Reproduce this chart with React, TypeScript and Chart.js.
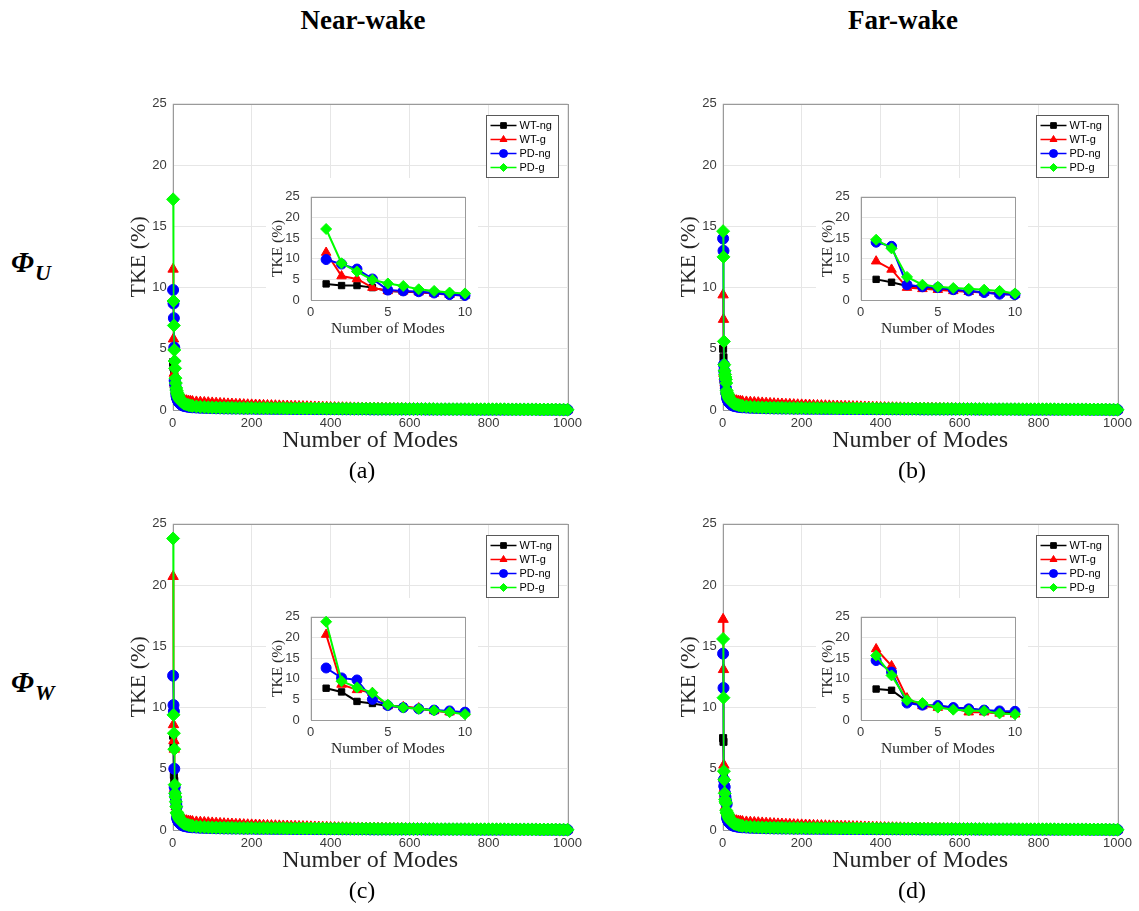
import React, { useEffect, useRef } from "react";
import { Chart, registerables } from "chart.js";
import { drawPoint } from "chart.js/helpers";

Chart.register(...registerables);

// ---- series appearance ----
const SERIES_NAMES = ["WT-ng", "WT-g", "PD-ng", "PD-g"];
const SERIES_COLORS = ["#000000", "#ff0000", "#0000ff", "#00ff00"];
const SERIES_MARKERS = ["rect", "triangle", "circle", "rectRot"];
const MAIN_MARKER_RADII = [5, 6, 5.5, 6.5];
const INSET_MARKER_RADII = [4.5, 5.5, 5, 5.5];
const DRAW_ORDER = [4, 3, 2, 1]; // PD-g ends up on top

// ---- axes ----
const MAIN_X_TICKS = [0, 200, 400, 600, 800, 1000];
const INSET_X_TICKS = [0, 5, 10];
const Y_TICKS = [0, 5, 10, 15, 20, 25];

// ---- leading modes (shown in the insets) ----
const HEAD_MODES = [1, 2, 3, 4, 5, 6, 7, 8, 9, 10];

// Φ_U, near-wake
const NEAR_U_WT_NG = [3.9, 3.5, 3.5, 3.0, 2.2, 2.0, 1.9, 1.7, 1.5, 1.3];
const NEAR_U_WT_G = [11.5, 5.8, 5.1, 3.0, 2.2, 2.1, 1.9, 1.6, 1.3, 1.1];
const NEAR_U_PD_NG = [9.8, 8.7, 7.5, 5.1, 2.4, 2.2, 2.0, 1.7, 1.3, 1.1];
const NEAR_U_PD_G = [17.2, 8.9, 6.9, 4.9, 4.0, 3.4, 2.6, 2.2, 1.8, 1.6];

// Φ_U, far-wake
const FAR_U_WT_NG = [5.0, 4.3, 3.4, 3.0, 2.7, 2.3, 2.1, 1.9, 1.6, 1.4];
const FAR_U_WT_G = [9.4, 7.4, 3.0, 2.7, 2.5, 2.2, 2.0, 1.8, 1.5, 1.3];
const FAR_U_PD_NG = [14.0, 13.0, 3.7, 3.2, 3.0, 2.5, 2.2, 1.8, 1.4, 1.3];
const FAR_U_PD_G = [14.6, 12.5, 5.6, 3.7, 3.2, 2.9, 2.7, 2.5, 2.2, 1.6];

// Φ_W, near-wake
const NEAR_W_WT_NG = [7.7, 6.8, 4.5, 4.0, 3.4, 3.2, 2.7, 2.3, 2.0, 1.8];
const NEAR_W_WT_G = [20.7, 8.6, 7.3, 6.6, 3.4, 3.2, 2.9, 2.2, 1.9, 1.7];
const NEAR_W_PD_NG = [12.6, 10.2, 9.7, 5.0, 3.5, 3.0, 2.7, 2.4, 2.2, 1.9];
const NEAR_W_PD_G = [23.8, 9.4, 7.9, 6.6, 3.7, 3.0, 2.7, 2.3, 1.9, 1.4];

// Φ_W, far-wake
const FAR_W_WT_NG = [7.5, 7.2, 4.5, 3.7, 3.4, 3.0, 2.7, 2.3, 1.9, 1.8];
const FAR_W_WT_G = [17.2, 13.1, 5.3, 3.4, 3.0, 2.9, 1.9, 1.9, 1.6, 1.4];
const FAR_W_PD_NG = [14.4, 11.6, 4.1, 3.6, 3.5, 3.0, 2.7, 2.4, 2.2, 2.1];
const FAR_W_PD_G = [15.6, 10.8, 4.8, 4.1, 3.0, 2.5, 2.3, 2.2, 1.6, 1.4];

// ---- higher modes (the long flat tail of the spectrum) ----
const TAIL_MODES = [
  11, 12, 13, 14, 15, 16, 17, 18, 19, 20,
  22, 24, 26, 28, 30, 35, 40, 45, 50,
  60, 70, 80, 90, 100,
  110, 120, 130, 140, 150, 160, 170, 180, 190, 200,
  210, 220, 230, 240, 250, 260, 270, 280, 290, 300,
  310, 320, 330, 340, 350, 360, 370, 380, 390, 400,
  410, 420, 430, 440, 450, 460, 470, 480, 490, 500,
  510, 520, 530, 540, 550, 560, 570, 580, 590, 600,
  610, 620, 630, 640, 650, 660, 670, 680, 690, 700,
  710, 720, 730, 740, 750, 760, 770, 780, 790, 800,
  810, 820, 830, 840, 850, 860, 870, 880, 890, 900,
  910, 920, 930, 940, 950, 960, 970, 980, 990, 1000,
];

const TAIL_WT_NG = [
  1.2, 1.1, 1.0, 0.93, 0.86, 0.8, 0.75, 0.7, 0.66, 0.62,
  0.56, 0.51, 0.47, 0.44, 0.41, 0.36, 0.32, 0.29, 0.27,
  0.24, 0.22, 0.2, 0.19, 0.18,
  0.17, 0.16, 0.16, 0.15, 0.15, 0.14, 0.14, 0.13, 0.13, 0.13,
  0.12, 0.12, 0.12, 0.11, 0.11, 0.11, 0.11, 0.1, 0.1, 0.1,
  0.1, 0.1, 0.09, 0.09, 0.09, 0.09, 0.09, 0.08, 0.08, 0.08,
  0.08, 0.08, 0.08, 0.07, 0.07, 0.07, 0.07, 0.07, 0.07, 0.07,
  0.06, 0.06, 0.06, 0.06, 0.06, 0.06, 0.06, 0.06, 0.06, 0.06,
  0.06, 0.06, 0.06, 0.05, 0.05, 0.05, 0.05, 0.05, 0.05, 0.05,
  0.05, 0.05, 0.04, 0.04, 0.04, 0.04, 0.04, 0.04, 0.04, 0.04,
  0.04, 0.04, 0.04, 0.03, 0.03, 0.03, 0.03, 0.03, 0.03, 0.03,
  0.03, 0.03, 0.03, 0.02, 0.02, 0.02, 0.02, 0.02, 0.01, 0.01,
];

const TAIL_WT_G = [
  1.3, 1.25, 1.2, 1.15, 1.1, 1.06, 1.02, 0.99, 0.96, 0.93,
  0.9, 0.87, 0.84, 0.82, 0.8, 0.76, 0.73, 0.71, 0.69,
  0.66, 0.64, 0.62, 0.6, 0.58,
  0.56, 0.54, 0.52, 0.5, 0.49, 0.47, 0.46, 0.44, 0.43, 0.42,
  0.41, 0.4, 0.38, 0.37, 0.36, 0.35, 0.34, 0.33, 0.32, 0.31,
  0.3, 0.29, 0.28, 0.27, 0.26, 0.25, 0.24, 0.23, 0.22, 0.21,
  0.2, 0.19, 0.19, 0.18, 0.18, 0.17, 0.17, 0.16, 0.16, 0.15,
  0.15, 0.14, 0.14, 0.13, 0.13, 0.12, 0.12, 0.12, 0.11, 0.11,
  0.1, 0.1, 0.1, 0.09, 0.09, 0.09, 0.08, 0.08, 0.08, 0.07,
  0.07, 0.07, 0.07, 0.06, 0.06, 0.06, 0.06, 0.05, 0.05, 0.05,
  0.05, 0.05, 0.04, 0.04, 0.04, 0.04, 0.04, 0.03, 0.03, 0.03,
  0.03, 0.03, 0.03, 0.02, 0.02, 0.02, 0.02, 0.02, 0.01, 0.01,
];

const TAIL_PD_NG = [
  1.0, 0.9, 0.82, 0.75, 0.69, 0.64, 0.6, 0.56, 0.53, 0.5,
  0.45, 0.41, 0.38, 0.35, 0.33, 0.29, 0.26, 0.24, 0.22,
  0.2, 0.18, 0.17, 0.16, 0.15,
  0.14, 0.14, 0.13, 0.13, 0.12, 0.12, 0.12, 0.11, 0.11, 0.11,
  0.1, 0.1, 0.1, 0.1, 0.09, 0.09, 0.09, 0.09, 0.09, 0.08,
  0.08, 0.08, 0.08, 0.08, 0.08, 0.07, 0.07, 0.07, 0.07, 0.07,
  0.07, 0.07, 0.06, 0.06, 0.06, 0.06, 0.06, 0.06, 0.06, 0.05,
  0.05, 0.05, 0.05, 0.05, 0.05, 0.05, 0.05, 0.05, 0.05, 0.05,
  0.05, 0.05, 0.05, 0.04, 0.04, 0.04, 0.04, 0.04, 0.04, 0.04,
  0.04, 0.04, 0.04, 0.04, 0.03, 0.03, 0.03, 0.03, 0.03, 0.03,
  0.03, 0.03, 0.03, 0.03, 0.03, 0.03, 0.03, 0.03, 0.03, 0.03,
  0.03, 0.03, 0.02, 0.02, 0.02, 0.02, 0.02, 0.02, 0.01, 0.01,
];

const TAIL_PD_G = [
  1.45, 1.35, 1.25, 1.15, 1.07, 1.0, 0.94, 0.88, 0.83, 0.78,
  0.71, 0.65, 0.6, 0.56, 0.52, 0.45, 0.4, 0.36, 0.33,
  0.29, 0.26, 0.24, 0.22, 0.21,
  0.2, 0.19, 0.19, 0.18, 0.18, 0.17, 0.17, 0.16, 0.16, 0.16,
  0.15, 0.15, 0.15, 0.15, 0.14, 0.14, 0.14, 0.14, 0.13, 0.13,
  0.13, 0.13, 0.13, 0.12, 0.12, 0.12, 0.12, 0.12, 0.11, 0.11,
  0.11, 0.11, 0.11, 0.11, 0.1, 0.1, 0.1, 0.1, 0.1, 0.1,
  0.1, 0.09, 0.09, 0.09, 0.09, 0.09, 0.09, 0.09, 0.08, 0.08,
  0.08, 0.08, 0.08, 0.08, 0.08, 0.08, 0.07, 0.07, 0.07, 0.07,
  0.07, 0.07, 0.07, 0.07, 0.07, 0.06, 0.06, 0.06, 0.06, 0.06,
  0.06, 0.06, 0.06, 0.06, 0.05, 0.05, 0.05, 0.05, 0.05, 0.05,
  0.05, 0.05, 0.04, 0.04, 0.04, 0.04, 0.04, 0.03, 0.03, 0.02,
];

const TAILS = [TAIL_WT_NG, TAIL_WT_G, TAIL_PD_NG, TAIL_PD_G];

const PANELS = [
  { id: "a", ox: 0, oy: 0, heads: [NEAR_U_WT_NG, NEAR_U_WT_G, NEAR_U_PD_NG, NEAR_U_PD_G] },
  { id: "b", ox: 550, oy: 0, heads: [FAR_U_WT_NG, FAR_U_WT_G, FAR_U_PD_NG, FAR_U_PD_G] },
  { id: "c", ox: 0, oy: 420, heads: [NEAR_W_WT_NG, NEAR_W_WT_G, NEAR_W_PD_NG, NEAR_W_PD_G] },
  { id: "d", ox: 550, oy: 420, heads: [FAR_W_WT_NG, FAR_W_WT_G, FAR_W_PD_NG, FAR_W_PD_G] },
];

// ---- styling ----
const SANS = '"Liberation Sans", Arial, sans-serif';
const SERIF = '"Liberation Serif", "Times New Roman", serif';
const GRID = "#e6e6e6";
const FRAME = "#9a9a9a";
const TICK_TEXT = "#3a3a3a";
const TITLE_TEXT = "#262626";

// Full axes box, drawn under the data like MATLAB's default layer.
const frameBox = {
  id: "frameBox",
  beforeDatasetsDraw(chart: any) {
    const { ctx, chartArea } = chart;
    const l = Math.round(chartArea.left) + 0.5;
    const t = Math.round(chartArea.top) + 0.5;
    const r = Math.round(chartArea.right) + 0.5;
    const b = Math.round(chartArea.bottom) + 0.5;
    ctx.save();
    ctx.strokeStyle = FRAME;
    ctx.lineWidth = 1;
    ctx.strokeRect(l, t, r - l, b - t);
    ctx.restore();
  },
};

// Boxed legend with a line-and-marker sample per series.
const boxLegend = {
  id: "boxLegend",
  afterDraw(chart: any, _args: any, opts: any) {
    if (!opts || !opts.show) return;
    const { ctx, chartArea } = chart;
    const x0 = Math.round(chartArea.right - opts.right - opts.width) + 0.5;
    const y0 = Math.round(chartArea.top + opts.top) + 0.5;
    ctx.save();
    ctx.fillStyle = "#ffffff";
    ctx.fillRect(x0, y0, opts.width, opts.height);
    ctx.strokeStyle = "#5a5a5a";
    ctx.lineWidth = 1;
    ctx.strokeRect(x0, y0, opts.width, opts.height);
    ctx.font = `11px ${SANS}`;
    ctx.textBaseline = "middle";
    ctx.textAlign = "left";
    chart.data.datasets.forEach((ds: any, i: number) => {
      const y = y0 + opts.firstRow + i * opts.rowGap;
      ctx.strokeStyle = ds.borderColor;
      ctx.fillStyle = ds.backgroundColor;
      ctx.lineWidth = 1.5;
      ctx.beginPath();
      ctx.moveTo(x0 + 4, y);
      ctx.lineTo(x0 + 30, y);
      ctx.stroke();
      ctx.lineWidth = 1;
      drawPoint(ctx, { pointStyle: ds.pointStyle, radius: 4, rotation: 0, borderWidth: 1 }, x0 + 17, y);
      ctx.fillStyle = "#000000";
      ctx.fillText(ds.label, x0 + 33, y + 0.5);
    });
    ctx.restore();
  },
};

function buildDatasets(heads: number[][], withTail: boolean, lineWidth: number, radii: number[]) {
  return SERIES_NAMES.map((name, k) => {
    const pts = HEAD_MODES.map((m, i) => ({ x: m, y: heads[k][i] }));
    const tail = withTail ? TAIL_MODES.map((m, i) => ({ x: m, y: TAILS[k][i] })) : [];
    return {
      label: name,
      data: [...pts, ...tail],
      borderColor: SERIES_COLORS[k],
      backgroundColor: SERIES_COLORS[k],
      pointStyle: SERIES_MARKERS[k],
      pointRadius: radii[k],
      pointBorderWidth: 1,
      borderWidth: lineWidth,
      tension: 0,
      clip: false,
      order: DRAW_ORDER[k],
    };
  });
}

function axisCommon(ticks: number[], tickFont: number, tickPad: number) {
  return {
    type: "linear",
    min: ticks[0],
    max: ticks[ticks.length - 1],
    afterBuildTicks: (s: any) => {
      s.ticks = ticks.map((v) => ({ value: v }));
    },
    ticks: {
      autoSkip: false,
      maxRotation: 0,
      padding: tickPad,
      color: TICK_TEXT,
      font: { family: SANS, size: tickFont },
      callback: (v: any) => String(v),
    },
    grid: { color: GRID, lineWidth: 1, drawTicks: false },
    border: { display: false },
  };
}

function mainConfig(heads: number[][]): any {
  return {
    type: "line",
    data: { datasets: buildDatasets(heads, true, 1.5, MAIN_MARKER_RADII) },
    plugins: [frameBox, boxLegend],
    options: {
      responsive: false,
      animation: false,
      events: [],
      layout: { padding: { top: 9, right: 18, left: 0, bottom: 0 } },
      scales: {
        x: {
          ...axisCommon(MAIN_X_TICKS, 13, 6),
          title: {
            display: true,
            text: "Number of Modes",
            color: TITLE_TEXT,
            font: { family: SERIF, size: 24 },
            padding: { top: 0, bottom: 5 },
          },
          afterFit: (s: any) => {
            s.height = 50;
          },
        },
        y: {
          ...axisCommon(Y_TICKS, 13, 6),
          title: {
            display: true,
            text: "TKE (%)",
            color: TITLE_TEXT,
            font: { family: SERIF, size: 22 },
            padding: { top: 7.8, bottom: 0 },
          },
          afterFit: (s: any) => {
            s.width = 54.7;
          },
        },
      },
      plugins: {
        legend: { display: false },
        tooltip: { enabled: false },
        boxLegend: { show: true, right: 10, top: 11, width: 72, height: 62, firstRow: 10, rowGap: 14 },
      },
    },
  };
}

function insetConfig(heads: number[][]): any {
  return {
    type: "line",
    data: { datasets: buildDatasets(heads, false, 2, INSET_MARKER_RADII) },
    plugins: [frameBox],
    options: {
      responsive: false,
      animation: false,
      events: [],
      layout: { padding: { top: 7.2, right: 13, left: 0, bottom: 0 } },
      scales: {
        x: {
          ...axisCommon(INSET_X_TICKS, 13, 5),
          title: {
            display: true,
            text: "Number of Modes",
            color: TITLE_TEXT,
            font: { family: SERIF, size: 15.5 },
            padding: { top: 0, bottom: 1.4 },
          },
          afterFit: (s: any) => {
            s.height = 40;
          },
        },
        y: {
          ...axisCommon(Y_TICKS, 13, 11),
          title: {
            display: true,
            text: "TKE (%)",
            color: TITLE_TEXT,
            font: { family: SERIF, size: 15.5 },
            padding: { top: 2.5, bottom: 0 },
          },
          afterFit: (s: any) => {
            s.width = 44.7;
          },
        },
      },
      plugins: {
        legend: { display: false },
        tooltip: { enabled: false },
      },
    },
  };
}

function Panel({ ox, oy, id, heads }: { ox: number; oy: number; id: string; heads: number[][] }) {
  const mainRef = useRef<HTMLCanvasElement | null>(null);
  const insetRef = useRef<HTMLCanvasElement | null>(null);

  useEffect(() => {
    const main = new Chart(mainRef.current as HTMLCanvasElement, mainConfig(heads));
    const inset = new Chart(insetRef.current as HTMLCanvasElement, insetConfig(heads));
    return () => {
      main.destroy();
      inset.destroy();
    };
  }, [heads]);

  return (
    <>
      <canvas
        ref={mainRef}
        width={470}
        height={370}
        style={{ position: "absolute", left: 118 + ox, top: 90 + oy, width: 470, height: 370 }}
      />
      <canvas
        ref={insetRef}
        width={212}
        height={162}
        style={{ position: "absolute", left: 266 + ox, top: 178 + oy, width: 212, height: 162, background: "#ffffff" }}
      />
      <div
        style={{
          position: "absolute",
          left: 262 + ox,
          top: 455 + oy,
          width: 200,
          textAlign: "center",
          font: `24px ${SERIF}`,
          lineHeight: "30px",
          color: "#000",
        }}
      >
        ({id})
      </div>
    </>
  );
}

function ColumnTitle({ x, text }: { x: number; text: string }) {
  return (
    <div
      style={{
        position: "absolute",
        left: x - 150,
        top: 5,
        width: 300,
        textAlign: "center",
        font: `bold 27px ${SERIF}`,
        lineHeight: "30px",
        color: "#000",
      }}
    >
      {text}
    </div>
  );
}

function RowLabel({ y, sub }: { y: number; sub: string }) {
  return (
    <div
      style={{
        position: "absolute",
        left: 11,
        top: y,
        font: `italic bold 29px ${SERIF}`,
        lineHeight: "32px",
        whiteSpace: "nowrap",
        color: "#000",
      }}
    >
      Φ
      <span style={{ fontSize: "22px", position: "relative", top: "8px", marginLeft: "1px" }}>{sub}</span>
    </div>
  );
}

export default function App() {
  return (
    <div
      style={{
        position: "absolute",
        left: 0,
        top: 0,
        width: 1139,
        height: 911,
        background: "#ffffff",
        overflow: "hidden",
      }}
    >
      <ColumnTitle x={363} text="Near-wake" />
      <ColumnTitle x={903} text="Far-wake" />
      <RowLabel y={246} sub="U" />
      <RowLabel y={666} sub="W" />
      {PANELS.map((p) => (
        <Panel key={p.id} ox={p.ox} oy={p.oy} id={p.id} heads={p.heads} />
      ))}
    </div>
  );
}
